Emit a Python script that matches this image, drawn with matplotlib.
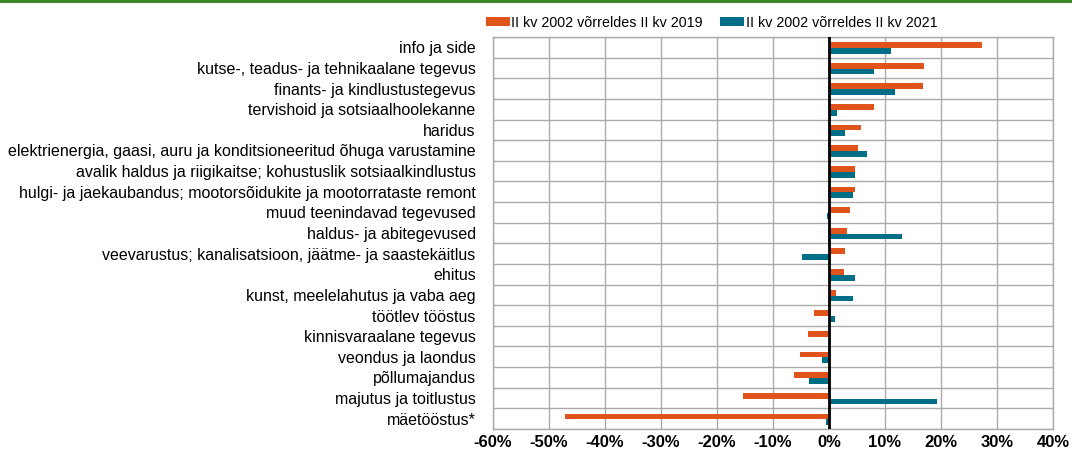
import matplotlib
matplotlib.use("Agg")
import matplotlib.pyplot as plt
import numpy as np

plt.rcParams['font.family'] = ['Liberation Sans', 'DejaVu Sans']

categories = [
    "info ja side",
    "kutse-, teadus- ja tehnikaalane tegevus",
    "finants- ja kindlustustegevus",
    "tervishoid ja sotsiaalhoolekanne",
    "haridus",
    "elektrienergia, gaasi, auru ja konditsioneeritud õhuga varustamine",
    "avalik haldus ja riigikaitse; kohustuslik sotsiaalkindlustus",
    "hulgi- ja jaekaubandus; mootorsõidukite ja mootorrataste remont",
    "muud teenindavad tegevused",
    "haldus- ja abitegevused",
    "veevarustus; kanalisatsioon, jäätme- ja saastekäitlus",
    "ehitus",
    "kunst, meelelahutus ja vaba aeg",
    "töötlev tööstus",
    "kinnisvaraalane tegevus",
    "veondus ja laondus",
    "põllumajandus",
    "majutus ja toitlustus",
    "mäetööstus*",
]

# muutus, %
vs_2019 = [27.4, 16.9, 16.7, 8.0, 5.8, 5.1, 4.7, 4.6, 3.8, 3.3,
           2.9, 2.6, 1.2, -2.6, -3.8, -5.2, -6.2, -15.4, -47.1]
vs_2021 = [11.0, 8.0, 11.7, 1.4, 2.8, 6.8, 4.6, 4.3, -0.3, 13.0,
           -4.8, 4.6, 4.3, 1.0, 0.0, -1.3, -3.5, 19.3, -0.6]

label_2019 = "II kv 2002 võrreldes II kv 2019"
label_2021 = "II kv 2002 võrreldes II kv 2021"

orange = "#E0541B"
teal = "#006E87"

fig = plt.figure(figsize=(10.72, 4.53), dpi=100)
ax = fig.add_axes([493 / 1072, 1 - 429 / 453, 560 / 1072, 392 / 453])

y = np.arange(len(categories))
ax.barh(y - 0.11, vs_2019, height=0.28, color=orange, label=label_2019, zorder=3)
ax.barh(y + 0.17, vs_2021, height=0.28, color=teal, label=label_2021, zorder=3)

ax.set_xlim(-60, 40)
ax.set_ylim(len(categories) - 0.5, -0.5)

xt = np.arange(-60, 41, 10)
ax.set_xticks(xt)
ax.set_xticklabels([f"{v}%" for v in xt], fontweight="bold", fontsize=12)
ax.set_yticks(y)
ax.set_yticklabels(categories, fontsize=11.5)
ax.set_yticks(np.arange(len(categories) + 1) - 0.5, minor=True)
ax.tick_params(axis="y", which="both", length=0, pad=12.5)
ax.tick_params(axis="x", length=0, pad=4)

ax.grid(axis="x", which="major", color="#aaaaaa", linewidth=1, zorder=0)
ax.grid(axis="y", which="minor", color="#aaaaaa", linewidth=1, zorder=0)
ax.axvline(0, color="black", linewidth=2, zorder=4)
for s in ax.spines.values():
    s.set_color("#aaaaaa")
    s.set_linewidth(1)

fig.legend(loc="upper left", bbox_to_anchor=(480 / 1072, 1 - 10 / 453), ncol=2,
           frameon=False, fontsize=10.3, handlelength=1.7, handleheight=0.65,
           handletextpad=0.1, columnspacing=1.2, borderaxespad=0)

# roheline joon üleval
fig.add_artist(plt.Line2D([0, 1], [1 - 1 / 453, 1 - 1 / 453], transform=fig.transFigure,
                          color="#3a8a2a", linewidth=2.2))

fig.savefig("out.png", dpi=100)
